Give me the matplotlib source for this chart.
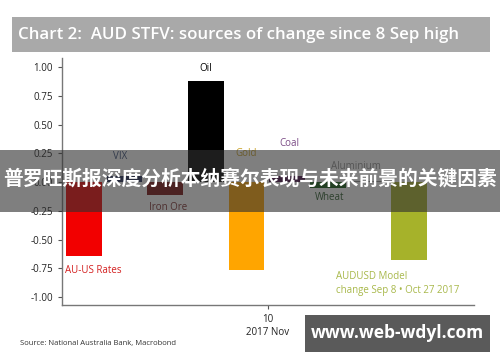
import matplotlib.pyplot as plt
from matplotlib.patches import Rectangle

# Contributions to AUD short-term fair value change (USc)
categories = ['AU-US Rates', 'VIX', 'Iron Ore', 'Oil', 'Gold', 'Coal', 'Wheat', 'Aluminium', 'AUDUSD Model']
values = [-0.64, 0.05, -0.11, 0.88, -0.76, 0.05, -0.05, 0.01, -0.68]
yticks = [1.00, 0.75, 0.50, 0.25, 0.0, -0.25, -0.50, -0.75, -1.00]

bar_colors = ['#f20000', '#1f2a55', '#780c0c', '#000000', '#ffa500',
              '#4a0c4a', '#0d560d', '#8c8c8c', '#a6b22a']
label_colors = ['#d42020', '#3b4f7a', '#7a2a2a', '#000000', '#c9a227',
                '#7a4a85', '#2a5a2a', '#909090', '#a8b84a']

# where each label sits (x, y, ha) in data coords
label_pos = [(-0.47, -0.77, 'left'), (0.88, 0.22, 'center'), (2.07, -0.22, 'center'),
             (3.0, 0.99, 'center'), (4.0, 0.25, 'center'), (5.05, 0.34, 'center'),
             (6.05, -0.13, 'center'), (6.7, 0.14, 'center'), (6.2, -0.88, 'left')]

plt.rcParams['font.family'] = ['Open Sans', 'DejaVu Sans']

fig = plt.figure(figsize=(5, 3.62), dpi=100)
ax = fig.add_axes([0.124, 0.157, 0.824, 0.683])

x = list(range(len(values)))
ax.bar(x, values, width=0.88, color=bar_colors)

for i, name in enumerate(categories):
    lx, ly, ha = label_pos[i]
    text = name
    if name == 'AUDUSD Model':
        text = 'AUDUSD Model\nchange Sep 8 \u2022 Oct 27 2017'
    ax.text(lx, ly, text, color=label_colors[i], fontsize=7, ha=ha, va='center',
            linespacing=1.3)

ax.set_xlim(-0.54, 9.6)
ax.set_ylim(-1.07, 1.08)
ax.set_yticks(yticks)
ax.set_yticklabels(['%.2f' % t if t != 0 else '0.00' for t in yticks], fontsize=7)
ax.set_xticks([4.53])
ax.set_xticklabels(['10\n2017 Nov'], fontsize=7)
ax.tick_params(axis='both', colors='#555555', length=3, width=0.8, labelcolor='#222222')
for side in ['top', 'right']:
    ax.spines[side].set_visible(False)
for side in ['left', 'bottom']:
    ax.spines[side].set_color('#777777')
    ax.spines[side].set_linewidth(1.0)

# title band
fig.patches.append(Rectangle((0.024, 0.856), 0.956, 0.097, transform=fig.transFigure,
                             facecolor='#a9a9a9', edgecolor='none'))
fig.text(0.036, 0.904, 'Chart 2:  AUD STFV: sources of change since 8 Sep high',
         color='white', fontsize=12.2, fontweight='semibold', va='center', ha='left')

fig.text(0.04, 0.047, 'Source: National Australia Bank, Macrobond', fontsize=5.5, color='#333333')

# overlay banner
fig.patches.append(Rectangle((0, 0.414), 1, 0.171, transform=fig.transFigure,
                             facecolor='#303030', alpha=0.62, edgecolor='none', zorder=5))
fig.text(0.5, 0.503, '普罗旺斯报深度分析本纳赛尔表现与未来前景的关键因素', color='white',
         fontsize=14.2, fontweight='bold', ha='center', va='center', zorder=6,
         family=['Noto Sans CJK SC', 'DejaVu Sans'])

# watermark
fig.patches.append(Rectangle((0.61, 0.028), 0.37, 0.102, transform=fig.transFigure,
                             facecolor='#5a5a5a', edgecolor='none', zorder=5))
fig.text(0.795, 0.079, 'www.web-wdyl.com', color='white', fontsize=12.5, fontweight='bold',
         ha='center', va='center', zorder=6)

fig.savefig('out.png', dpi=100)
